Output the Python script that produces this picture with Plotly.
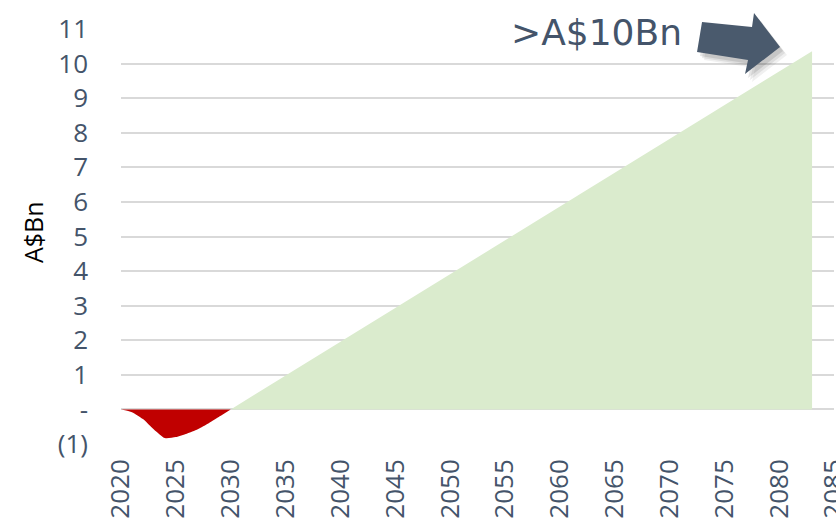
import plotly.graph_objects as go

# Cumulative net benefit, A$ billions
loss_years = [2020, 2021, 2022, 2023, 2024, 2025, 2026, 2027, 2028, 2029, 2030]
loss_values = [0, -0.08, -0.28, -0.58, -0.83, -0.80, -0.70, -0.57, -0.40, -0.20, 0]

gain_years = [2030, 2083]
gain_values = [0, 10.36]

y_tick_vals = [-1, 0, 1, 2, 3, 4, 5, 6, 7, 8, 9, 10, 11]
y_tick_text = ["(1)", "-", "1", "2", "3", "4", "5", "6", "7", "8", "9", "10", "11"]
x_tick_vals = list(range(2020, 2086, 5))

W, H = 836, 520
ML, MR, MT, MB = 121, 2, 29, 76
PW, PH = W - ML - MR, H - MT - MB

SLATE = "#44546A"
GRID = "#D9D9D9"


def to_paper(px, py):
    return (px - ML) / PW, (H - MB - py) / PH


def path_from(points, dx=0, dy=0):
    parts = []
    for i, (px, py) in enumerate(points):
        x, y = to_paper(px + dx, py + dy)
        parts.append(("M" if i == 0 else "L") + f"{x:.4f},{y:.4f}")
    return " ".join(parts) + " Z"


fig = go.Figure()

fig.add_trace(go.Scatter(
    x=gain_years, y=gain_values, mode="lines", fill="tozeroy",
    line=dict(width=0, color="#DAEBCD"), fillcolor="#DAEBCD",
    hoverinfo="skip", showlegend=False,
))
fig.add_trace(go.Scatter(
    x=loss_years, y=loss_values, mode="lines", fill="tozeroy",
    line=dict(width=0, color="#C00000", shape="spline", smoothing=0.6),
    fillcolor="#C00000", hoverinfo="skip", showlegend=False,
))

# Block arrow pointing to the end of the curve, with a soft drop shadow
arrow_pts = [(702, 22), (752, 27), (754, 13), (780, 47), (745, 74), (748, 60), (697, 52)]
shapes = []
for off, alpha in [(7, 0.06), (5, 0.08), (3, 0.10)]:
    shapes.append(dict(type="path", xref="paper", yref="paper",
                       path=path_from(arrow_pts, off, off + 1),
                       fillcolor=f"rgba(0,0,0,{alpha})", line=dict(width=0)))
shapes.append(dict(type="path", xref="paper", yref="paper",
                   path=path_from(arrow_pts),
                   fillcolor="#4A5A6D", line=dict(width=0)))

tx, ty = to_paper(509, 33)
lx, ly = to_paper(33, 232)

fig.update_layout(
    width=W, height=H,
    margin=dict(l=ML, r=MR, t=MT, b=MB, autoexpand=False),
    paper_bgcolor="white", plot_bgcolor="white",
    shapes=shapes,
    annotations=[
        dict(text=">A$10Bn", xref="paper", yref="paper", x=tx, y=ty,
             xanchor="left", yanchor="middle", showarrow=False,
             font=dict(family="DejaVu Sans", size=36, color=SLATE)),
        dict(text="A$Bn", xref="paper", yref="paper", x=lx, y=ly,
             xanchor="center", yanchor="middle", showarrow=False, textangle=-90,
             font=dict(family="Open Sans", size=25, color="black")),
    ],
    xaxis=dict(
        range=[2020, 2085], tickvals=x_tick_vals, tickangle=-90,
        showgrid=False, zeroline=False, showline=False, ticks="",
        tickfont=dict(family="Open Sans", size=26, color=SLATE),
        ticklabelstandoff=9, ticklabeloverflow="allow", automargin=False,
    ),
    yaxis=dict(
        range=[-1, 11], tickvals=y_tick_vals, ticktext=y_tick_text,
        showgrid=True, gridcolor=GRID, gridwidth=1.5,
        zeroline=True, zerolinecolor=GRID, zerolinewidth=1.5,
        showline=False, ticks="",
        tickfont=dict(family="Open Sans", size=26, color=SLATE),
        ticklabelstandoff=32, automargin=False,
    ),
)

fig.write_html("out.html")
